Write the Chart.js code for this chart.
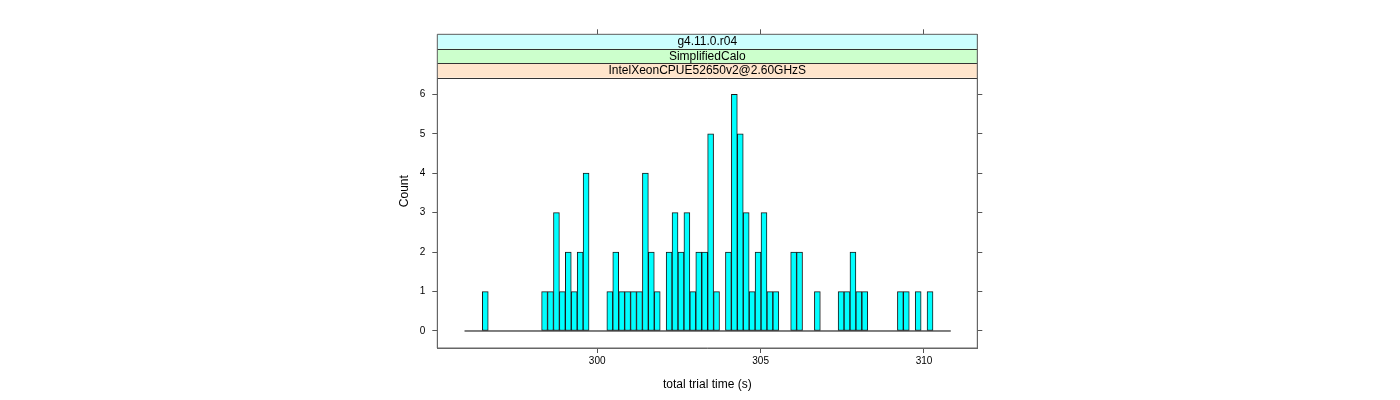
<!DOCTYPE html>
<html>
<head>
<meta charset="utf-8">
<script src="https://cdn.jsdelivr.net/npm/chart.js@4.4.1/dist/chart.umd.min.js"></script>
<style>
  html, body { margin: 0; padding: 0; background: #ffffff; }
  canvas { display: block; }
</style>
</head>
<body>
<canvas id="c" width="1400" height="400"></canvas>
<script>
// ---- data ----
const stripLabels = ['g4.11.0.r04', 'SimplifiedCalo', 'IntelXeonCPUE52650v2@2.60GHzS'];
const stripColors = ['#CCFFFF', '#CCFFCC', '#FFE5CC'];
const breakStart = 295.94;   // first histogram break (s)
const binWidth = 0.18146;    // histogram bin width (s)
const counts = [0,0,0, 1, 0,0,0,0,0,0,0,0,0, 1,1,3,1,2,1,2,4, 0,0,0,
                1,2,1,1,1,1,4,2,1, 0, 2,3,2,3,1,2,2,5,1, 0, 2,6,5,3,1,2,3,1,1,
                0,0, 2,2, 0,0, 1, 0,0,0, 1,1,2,1,1, 0,0,0,0,0, 1,1,0,1,0,1, 0,0,0];
const xTicks = [300, 305, 310];
const yTicks = [0, 1, 2, 3, 4, 5, 6];
const xLimits = [295.107, 311.631];
const yLimits = [-0.431, 6.421];   // panel limits
const yTotalMax = 7.521;           // panel + strip space

// ---- derived ----
const bars = counts.map((c, i) => ({ x: breakStart + (i + 0.5) * binWidth, y: c }));
const breakEnd = breakStart + counts.length * binWidth;
const baseline = [{ x: breakStart, y: 0 }, { x: breakEnd, y: 0 }];

const FONT = '"Liberation Sans", Arial, Helvetica, sans-serif';
const axisColor = '#666666';

const stripPlugin = {
  id: 'strips',
  afterDraw(chart) {
    const ctx = chart.ctx;
    const ca = chart.chartArea;
    const ys = chart.scales.y;
    const panelTop = ys.getPixelForValue(yLimits[1]);
    const top = ca.top;
    const h = (panelTop - top) / stripLabels.length;
    ctx.save();
    for (let i = 0; i < stripLabels.length; i++) {
      const y0 = top + i * h;
      ctx.fillStyle = stripColors[i];
      ctx.fillRect(ca.left, y0, ca.right - ca.left, h);
    }
    ctx.strokeStyle = '#333333';
    ctx.lineWidth = 1;
    for (let i = 1; i <= stripLabels.length; i++) {
      const y = Math.round(top + i * h) + 0.5;
      ctx.beginPath();
      ctx.moveTo(ca.left, y);
      ctx.lineTo(ca.right, y);
      ctx.stroke();
    }
    ctx.fillStyle = '#000000';
    ctx.font = '12px ' + FONT;
    ctx.textAlign = 'center';
    ctx.textBaseline = 'middle';
    for (let i = 0; i < stripLabels.length; i++) {
      ctx.fillText(stripLabels[i], (ca.left + ca.right) / 2, top + (i + 0.5) * h + 0.5);
    }
    ctx.strokeStyle = axisColor;
    ctx.beginPath();
    ctx.rect(ca.left, ca.top, ca.right - ca.left, ca.bottom - ca.top);
    ctx.stroke();
    ctx.restore();
  }
};

function setTicks(list) {
  return function (scale) { scale.ticks = list.map(v => ({ value: v })); };
}

const gridOpts = (len) => ({
  display: true,
  offset: false,
  drawOnChartArea: false,
  drawTicks: true,
  tickLength: len,
  tickColor: '#555555',
  lineWidth: 1
});

new Chart(document.getElementById('c'), {
  type: 'bar',
  data: {
    datasets: [
      {
        type: 'line',
        data: baseline,
        borderColor: '#000000',
        borderWidth: 1,
        pointRadius: 0,
        xAxisID: 'x',
        yAxisID: 'y',
        order: 2
      },
      {
        type: 'bar',
        data: bars,
        backgroundColor: '#00FFFF',
        borderColor: '#1a1a1a',
        borderWidth: 1,
        borderSkipped: false,
        barPercentage: 1.0,
        categoryPercentage: 1.0,
        xAxisID: 'x',
        yAxisID: 'y',
        order: 1
      }
    ]
  },
  options: {
    responsive: false,
    animation: false,
    devicePixelRatio: 1,
    layout: { padding: { left: 397.5, right: 0, top: 0, bottom: 7.8 } },
    plugins: { legend: { display: false }, tooltip: { enabled: false } },
    scales: {
      x: {
        type: 'linear',
        position: 'bottom',
        offset: false,
        min: xLimits[0],
        max: xLimits[1],
        afterBuildTicks: setTicks(xTicks),
        afterFit: (s) => { s.height = 44.2; },
        grid: gridOpts(5),
        border: { display: true, color: axisColor, width: 1 },
        ticks: { color: '#000000', font: { family: FONT, size: 10 }, padding: 2, maxRotation: 0, autoSkip: false },
        title: { display: true, text: 'total trial time (s)', color: '#000000', font: { family: FONT, size: 12 }, padding: 0 }
      },
      x2: {
        type: 'linear',
        position: 'top',
        offset: false,
        min: xLimits[0],
        max: xLimits[1],
        afterBuildTicks: setTicks(xTicks),
        afterFit: (s) => { s.height = 34.3; },
        grid: gridOpts(5),
        border: { display: true, color: axisColor, width: 1 },
        ticks: { display: false }
      },
      y: {
        type: 'linear',
        position: 'left',
        min: yLimits[0],
        max: yTotalMax,
        afterBuildTicks: setTicks(yTicks),
        afterFit: (s) => { s.width = 39.8; },
        grid: gridOpts(5),
        border: { display: true, color: axisColor, width: 1 },
        ticks: { color: '#000000', font: { family: FONT, size: 10 }, padding: 7, autoSkip: false },
        title: { display: true, text: 'Count', color: '#000000', font: { family: FONT, size: 12 }, padding: 0 }
      },
      y2: {
        type: 'linear',
        position: 'right',
        min: yLimits[0],
        max: yTotalMax,
        afterBuildTicks: setTicks(yTicks),
        afterFit: (s) => { s.width = 422.7; },
        grid: gridOpts(5),
        border: { display: true, color: axisColor, width: 1 },
        ticks: { display: false }
      }
    }
  },
  plugins: [stripPlugin]
});
</script>
</body>
</html>
